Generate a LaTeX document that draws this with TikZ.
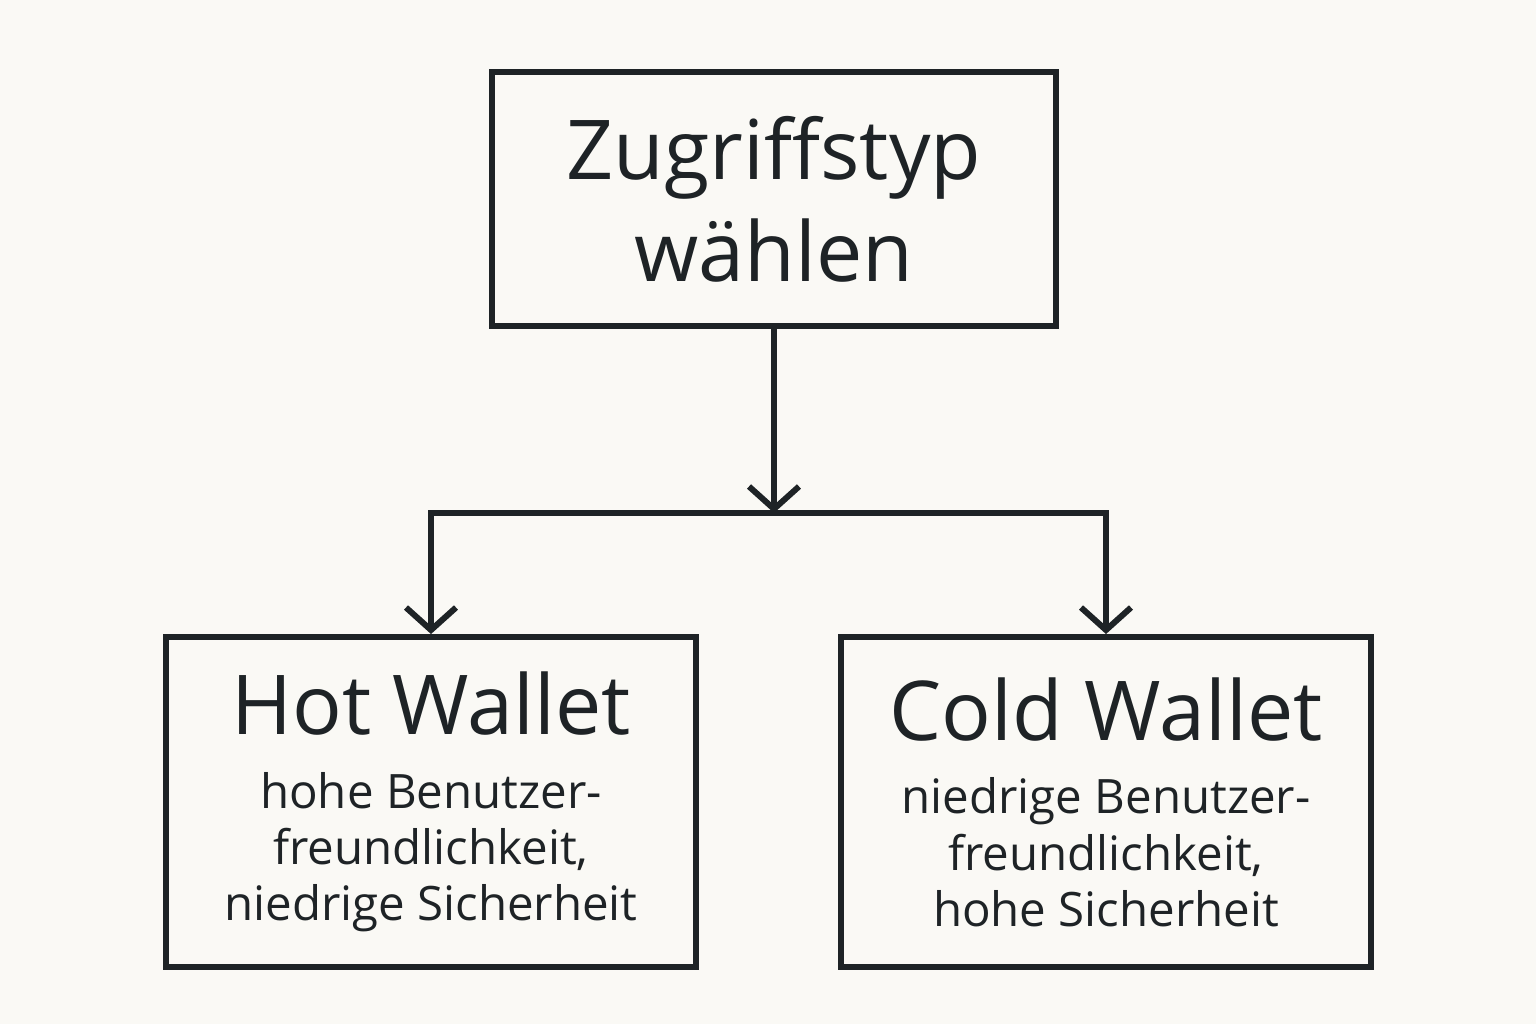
\documentclass[tikz,border=0pt]{standalone}
\usepackage{fontspec}
\setmainfont{Open Sans}
\usetikzlibrary{arrows.meta}
\definecolor{ink}{HTML}{1E2326}
\definecolor{paper}{HTML}{FAF9F5}
\tikzstyle{box}=[draw=ink, line width=3.4pt, inner sep=0, text=ink, align=center]
\tikzstyle{link}=[draw=ink, line width=3.4pt, -{Straight Barb[length=0.45cm, width=1cm, line width=3.4pt]}]

\begin{document}
\begin{tikzpicture}[x=0.02cm, y=-0.02cm]

\fill [paper] (0, 0) rectangle (1536, 1024);

\node [box, minimum width=11.28cm, minimum height=5.08cm,
       font=\fontsize{47}{58}\selectfont] (top) at (774, 199)
      {Zugriffstyp\\wählen};
\node [box, minimum width=10.62cm, minimum height=6.6cm,
       font=\fontsize{27}{32}\selectfont] (hot) at (431, 802)
      {{\fontsize{47}{58}\selectfont Hot Wallet}\\[10pt]
       hohe Benutzer-\\freundlichkeit,\\niedrige Sicherheit};
\node [box, minimum width=10.62cm, minimum height=6.6cm,
       font=\fontsize{27}{32}\selectfont] (cold) at (1106, 802)
      {{\fontsize{47}{58}\selectfont Cold Wallet}\\[10pt]
       niedrige Benutzer-\\freundlichkeit,\\hohe Sicherheit};

\coordinate (split) at (top.south |- 0, 513);

\draw [link] (top.south) to (split);
\draw [link] (split) -| (hot.north);
\draw [link] (split) -| (cold.north);

\end{tikzpicture}
\end{document}
